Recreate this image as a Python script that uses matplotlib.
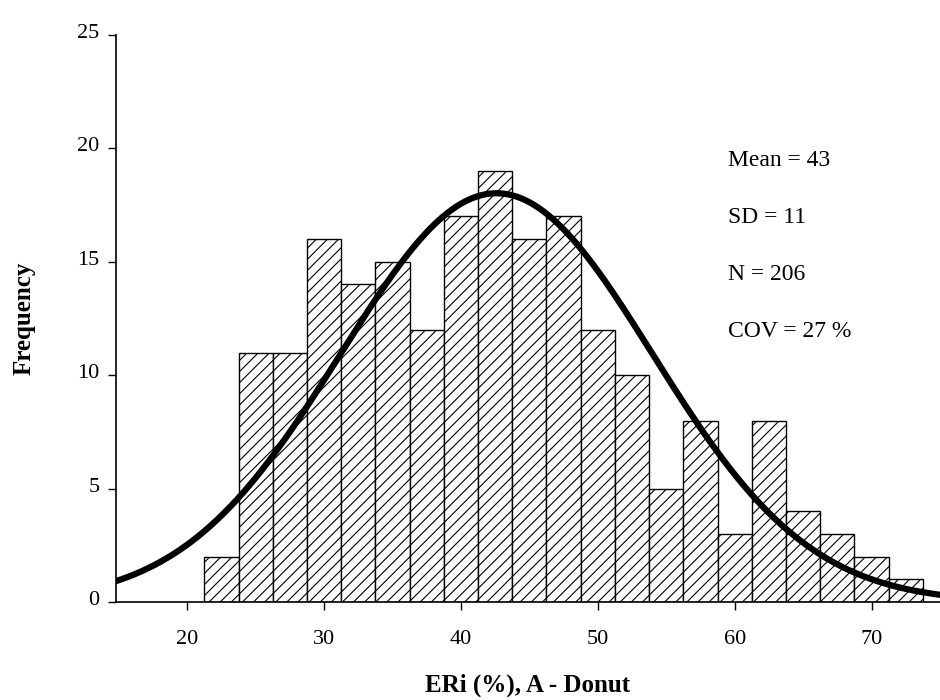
import numpy as np
import matplotlib
matplotlib.use("Agg")
import matplotlib.pyplot as plt
from matplotlib.transforms import ScaledTranslation

plt.rcParams['font.family'] = ['Liberation Serif', 'DejaVu Serif']
plt.rcParams['hatch.linewidth'] = 0.8

# histogram bins (ERi %) and counts
bin_start = 21.25
bin_width = 2.5
counts = [2, 11, 11, 16, 14, 15, 12, 17, 19, 16, 17, 12, 10, 5, 8, 3, 8, 4, 3, 2, 1]

# fitted normal
mean = 42.6
sd = 11.4
n = sum(counts)

edges = bin_start + bin_width * np.arange(len(counts) + 1)
centers = (edges[:-1] + edges[1:]) / 2

fig = plt.figure(figsize=(9.4, 7), dpi=100)
ax = fig.add_axes([0.1234, 0.14, 0.8766, 0.81])

ax.bar(centers, counts, width=bin_width, color='white', edgecolor='black',
       linewidth=1.0, hatch='///')

x = np.linspace(14, 76, 400)
y = n * bin_width / (sd * np.sqrt(2 * np.pi)) * np.exp(-0.5 * ((x - mean) / sd) ** 2)
ax.plot(x, y, color='black', linewidth=4.5)

ax.set_xlim(14.8, 75)
ax.set_ylim(0, 25)
ax.set_xticks([20, 30, 40, 50, 60, 70])
ax.set_yticks([0, 5, 10, 15, 20, 25])
ax.tick_params(labelsize=16, length=6, width=1, direction='out')
ax.tick_params(axis='x', pad=14)
ax.tick_params(axis='y', pad=6)
# y labels sit a little above their ticks
shift = ScaledTranslation(0, 4 / 100, fig.dpi_scale_trans)
for lbl in ax.get_yticklabels():
    lbl.set_transform(lbl.get_transform() + shift)
for s in ['top', 'right']:
    ax.spines[s].set_visible(False)
for s in ['left', 'bottom']:
    ax.spines[s].set_linewidth(1.2)

ax.set_xlabel('ERi (%), A - Donut', fontsize=18, fontweight='bold', labelpad=18)
ax.set_ylabel('Frequency', fontsize=18, fontweight='bold', labelpad=30)

stats = [f'Mean = {mean:.0f}', f'SD = {sd:.0f}', f'N = {n}', f'COV = {100 * sd / mean:.0f} %']
for i, t in enumerate(stats):
    ax.text(0.743, 0.778 - i * 0.1005, t, transform=ax.transAxes, fontsize=17, va='center')

fig.savefig('out.png', dpi=100)
